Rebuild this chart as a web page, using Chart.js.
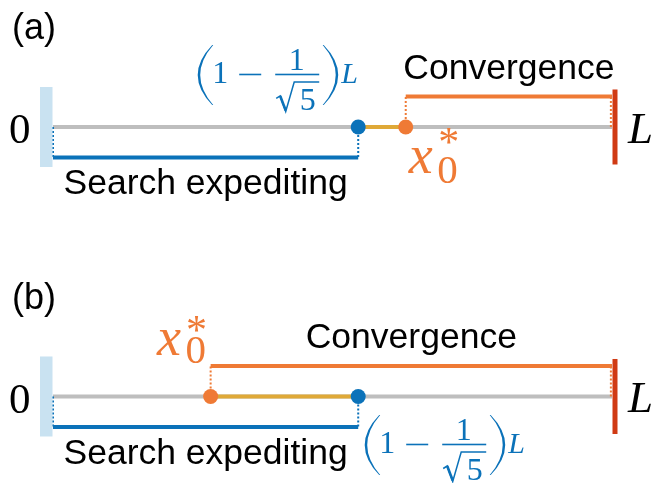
<!DOCTYPE html>
<html><head><meta charset="utf-8">
<script src="https://cdn.jsdelivr.net/npm/chart.js@4"></script>
<style>html,body{margin:0;padding:0;background:#fff}#wrap{width:656px;height:483px;position:relative}</style>
</head><body><div id="wrap"><canvas id="c"></canvas></div>
<script>
// ---- data (positions along the segment, in units of L) ----
const panelLabels = ['(a)', '(b)'];
const expediteX = [0.546, 0.546];   // (1 - 1/sqrt5) L
const optimumX  = [0.631, 0.282];   // x0*
const panelY    = [1, 0];           // track level of each panel
const rangeLabels = ['Search expediting', 'Convergence'];
const endLabels = ['0', 'L'];
const bracketGap = 0.113;

// ---- styles / layout ----
const C = {gray:'#bebebe', yellow:'#dfa937', blue:'#0b72b9', orange:'#ef7a35', red:'#d03a14', wall:'#c9e2f1', text:'#000'};
const SANS = '"Liberation Sans", Arial, sans-serif';
const SERIF = '"Liberation Serif", "Times New Roman", serif';
const layout = [
  {fx:-162, fy:-43.5, xl:6, xb:46, subDy:10, supDx:37, supDy:-36.5},
  {fx:5, fy:57, xl:-50.6, xb:-41.7, subDy:8, supDx:36.5, supDy:-30}
];

function lineDS(pts, color, width, dash){
  return {data:pts, borderColor:color, borderWidth:width, borderDash:dash||[], pointRadius:0,
          fill:false, tension:0, borderCapStyle:'butt', showLine:true};
}
const dots = [], segs = [], brackets = [], dotted = [], tracks = [];
panelY.forEach((y,i)=>{
  const e = expediteX[i], o = optimumX[i];
  dots.push({data:[{x:e,y}], pointRadius:7.5, pointBackgroundColor:C.blue, pointBorderWidth:0, showLine:false});
  dots.push({data:[{x:o,y}], pointRadius:7.5, pointBackgroundColor:C.orange, pointBorderWidth:0, showLine:false});
  segs.push(lineDS([{x:Math.min(e,o),y},{x:Math.max(e,o),y}], C.yellow, 4));
  brackets.push(lineDS([{x:0,y:y-bracketGap},{x:e,y:y-bracketGap}], C.blue, 4));
  brackets.push(lineDS([{x:o,y:y+bracketGap},{x:1,y:y+bracketGap}], C.orange, 4));
  dotted.push(lineDS([{x:0,y},{x:0,y:y-bracketGap}], C.blue, 2, [2,2]));
  dotted.push(lineDS([{x:e,y},{x:e,y:y-bracketGap}], C.blue, 2, [2,2]));
  dotted.push(lineDS([{x:o,y},{x:o,y:y+bracketGap}], C.orange, 2, [2,2]));
  dotted.push(lineDS([{x:0.998,y},{x:0.998,y:y+bracketGap}], C.orange, 2, [2,2]));
  tracks.push(lineDS([{x:0,y},{x:1,y}], C.gray, 4));
});
const datasets = [...dots, ...segs, ...brackets, ...dotted, ...tracks];

function drawFormula(ctx, x0, yb, col){
  ctx.save(); ctx.fillStyle = col; ctx.strokeStyle = col;
  const top = yb-38.5, bot = yb+21.5, mid = (top+bot)/2;
  ctx.beginPath(); ctx.moveTo(x0+16,top); ctx.quadraticCurveTo(x0-13,mid,x0+16,bot);
  ctx.lineTo(x0+17,bot); ctx.quadraticCurveTo(x0-9,mid,x0+17,top); ctx.closePath(); ctx.fill();
  const xr = x0+143.5;
  ctx.beginPath(); ctx.moveTo(xr-16,top); ctx.quadraticCurveTo(xr+13,mid,xr-16,bot);
  ctx.lineTo(xr-17,bot); ctx.quadraticCurveTo(xr+9,mid,xr-17,top); ctx.closePath(); ctx.fill();
  ctx.font = '32px ' + SERIF; ctx.textBaseline = 'alphabetic'; ctx.textAlign = 'center';
  ctx.fillText('1', x0+24, yb);
  ctx.fillRect(x0+43, yb-9.8, 22, 1.6);
  ctx.fillRect(x0+79, yb-9.8, 44, 1.6);
  ctx.fillText('1', x0+100.5, yb-13.5);
  ctx.fillText('5', x0+111.5, yb+26.5);
  ctx.lineWidth = 1.5; ctx.lineJoin = 'miter';
  ctx.beginPath(); ctx.moveTo(x0+80,yb+15); ctx.lineTo(x0+84,yb+12.5); ctx.lineTo(x0+89.5,yb+28);
  ctx.lineTo(x0+98,yb-1.5); ctx.lineTo(x0+123,yb-1.5); ctx.stroke();
  ctx.lineWidth = 2.6; ctx.beginPath(); ctx.moveTo(x0+84,yb+12.5); ctx.lineTo(x0+89.5,yb+27); ctx.stroke();
  ctx.textAlign = 'left'; ctx.font = 'italic 30px ' + SERIF;
  ctx.fillText('L', x0+145, yb);
  ctx.restore();
}
function drawX0(ctx, left, base, L, col){
  ctx.save(); ctx.fillStyle = col; ctx.textBaseline = 'alphabetic'; ctx.textAlign = 'left';
  ctx.font = 'italic 54px ' + SERIF; ctx.fillText('x', left-3, base);
  ctx.font = '41px ' + SERIF; ctx.fillText('0', left+25.5, base+L.subDy);
  ctx.textAlign = 'center'; ctx.font = '42px ' + SERIF;
  ctx.fillText('*', left+L.supDx, base+L.supDy+19.5);
  ctx.restore();
}

const decor = {
  id:'decor',
  afterDatasetsDraw(chart){
    const ctx = chart.ctx, sx = chart.scales.x, sy = chart.scales.y;
    panelY.forEach((y,i)=>{
      const L = layout[i];
      const p0 = sx.getPixelForValue(0), p1 = sx.getPixelForValue(1), py = sy.getPixelForValue(y);
      const pe = sx.getPixelForValue(expediteX[i]), po = sx.getPixelForValue(optimumX[i]);
      // walls
      ctx.fillStyle = C.wall; ctx.fillRect(p0-13, py-40, 12.5, 80);
      ctx.fillStyle = C.red; ctx.fillRect(p1+0.5, py-37.5, 5, 75);
      // texts
      ctx.fillStyle = C.text; ctx.textBaseline = 'alphabetic';
      ctx.font = '36px ' + SANS; ctx.textAlign = 'left';
      ctx.fillText(panelLabels[i], 12, py-87.5);
      ctx.font = '35.5px ' + SANS; ctx.textAlign = 'center';
      const pb = sy.getPixelForValue(y-bracketGap), pt = sy.getPixelForValue(y+bracketGap);
      ctx.fillText(rangeLabels[0], (p0+pe)/2, pb+37);
      ctx.fillText(rangeLabels[1], (po+p1)/2, pt-18);
      ctx.textAlign = 'left';
      ctx.font = '43px ' + SERIF; ctx.fillText(endLabels[0], 9, py+16.5);
      ctx.font = 'italic 45px ' + SERIF; ctx.fillText(endLabels[1], p1+16, py+16);
      drawFormula(ctx, pe+L.fx, py+L.fy, C.blue);
      drawX0(ctx, po+L.xl, py+L.xb, L, C.orange);
    });
  }
};

new Chart(document.getElementById('c'), {
  type:'line',
  data:{datasets},
  options:{
    responsive:true, maintainAspectRatio:false, animation:false,
    layout:{padding:0, autoPadding:false},
    plugins:{legend:{display:false}, tooltip:{enabled:false}},
    scales:{
      x:{type:'linear', min:-0.09481, max:1.07871, display:false},
      y:{type:'linear', min:-0.321, max:1.4712, display:false}
    }
  },
  plugins:[decor]
});
</script></body></html>
